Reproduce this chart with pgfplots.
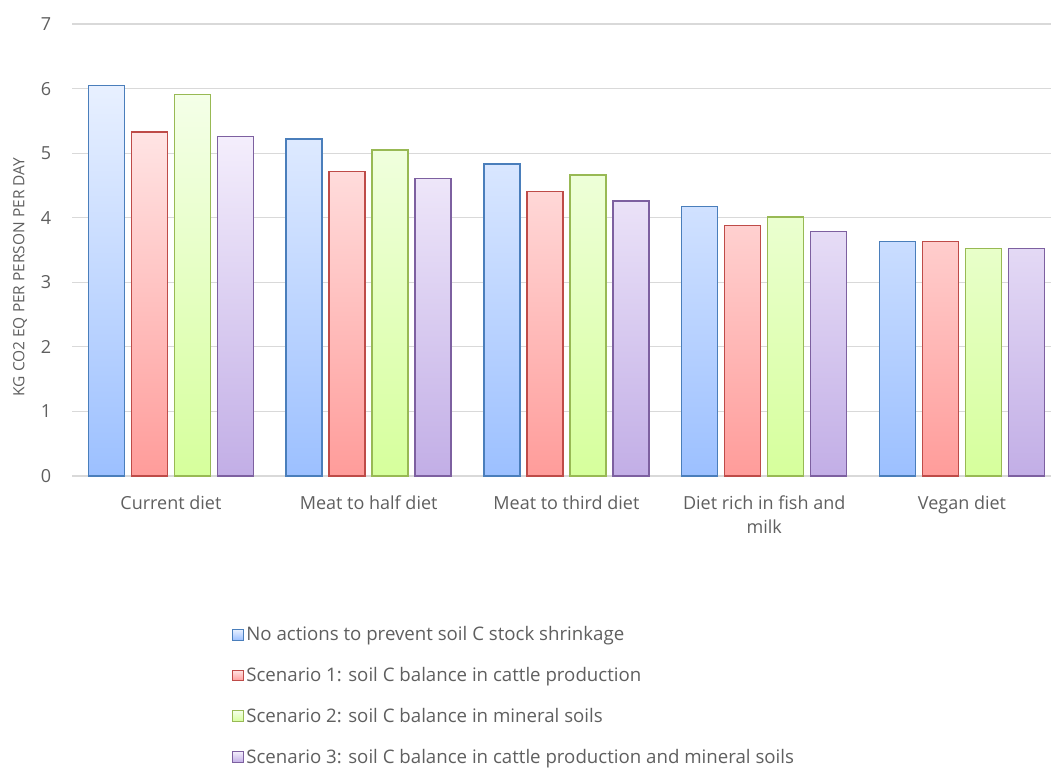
\documentclass[border=0pt]{standalone}
\usepackage{fontspec}
\setmainfont{Open Sans}
\usepackage{pgfplots}
\pgfplotsset{compat=1.18}
\definecolor{txt}{HTML}{5F5F5F}
\definecolor{gridc}{HTML}{D9D9D9}
\definecolor{bD}{HTML}{4A7EBB}\definecolor{bT}{HTML}{E8F0FF}\definecolor{bB}{HTML}{9CC0FF}
\definecolor{rD}{HTML}{BE4B48}\definecolor{rT}{HTML}{FFE4E4}\definecolor{rB}{HTML}{FF9C9A}
\definecolor{gD}{HTML}{98B954}\definecolor{gT}{HTML}{F4FFE8}\definecolor{gB}{HTML}{D6FF9C}
\definecolor{pD}{HTML}{7D60A0}\definecolor{pT}{HTML}{F4EEFC}\definecolor{pB}{HTML}{C2AEE6}
\pgfplotstableread{
x a b c d
0 6.05 5.33 5.91 5.26
1 5.22 4.72 5.05 4.61
2 4.83 4.41 4.66 4.26
3 4.17 3.88 4.01 3.79
4 3.63 3.63 3.52 3.52
}\datatable
\begin{document}
\begin{tikzpicture}
\path[use as bounding box] (0pt,0pt) rectangle (788.25pt,-576.75pt);
\begin{axis}[
  at={(54pt,-357pt)}, anchor=south west,
  scale only axis, width=734.25pt, height=339pt,
  xmin=-0.5, xmax=4.45, ymin=0, ymax=7,
  ytick={0,1,...,7},
  xtick={0,1,2,3,4},
  /pgf/number format/assume math mode=true,
  xticklabels={Current diet, Meat to half diet, Meat to third diet, {Diet rich in fish and\\milk}, Vegan diet},
  xticklabel style={align=center, font=\fontsize{13.5}{18.5}\selectfont, text=txt, yshift=-11pt},
  yticklabel style={font=\fontsize{13.5}{16}\selectfont, text=txt, xshift=-12pt},
  ymajorgrids, grid style={gridc, line width=0.9pt},
  axis line style={draw=none},
  major tick length=0pt,
  ylabel={KG CO2 EQ PER PERSON PER DAY},
  ylabel style={font=\fontsize{11.6}{13}\selectfont, text=txt, at={(axis description cs:-0.053,0.44)}, anchor=center},
  ybar, bar width=27pt,
  legend style={at={(axis description cs:0.159,-0.321)}, anchor=north west, draw=none, fill=none,
    font=\fontsize{14}{16}\selectfont, text=txt, row sep=14.4pt, cells={anchor=west}},
  legend image code/.code={\draw[#1, line width=0.8pt] (0pt,-4pt) rectangle (8pt,4pt);},
  clip=false,
]
\addplot[bar shift=-48.4pt, draw=bD, line width=1.1pt, top color=bT, bottom color=bB] table[x=x,y=a]{\datatable};
\addplot[bar shift=-16.1pt, draw=rD, line width=1.1pt, top color=rT, bottom color=rB] table[x=x,y=b]{\datatable};
\addplot[bar shift=16.1pt, draw=gD, line width=1.1pt, top color=gT, bottom color=gB] table[x=x,y=c]{\datatable};
\addplot[bar shift=48.4pt, draw=pD, line width=1.1pt, top color=pT, bottom color=pB] table[x=x,y=d]{\datatable};
\legend{No actions to prevent soil C stock shrinkage,
Scenario 1: soil C balance in cattle production,
Scenario 2: soil C balance in mineral soils,
Scenario 3: soil C balance in cattle production and mineral soils}
\end{axis}
\end{tikzpicture}
\end{document}
